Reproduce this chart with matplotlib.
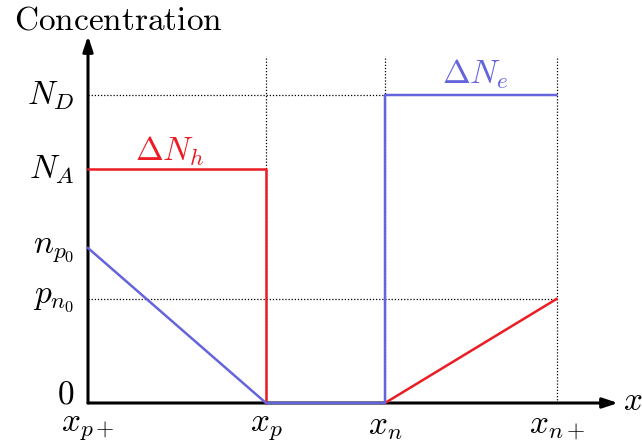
import matplotlib
matplotlib.use("Agg")
import matplotlib.pyplot as plt

plt.rcParams['mathtext.fontset'] = 'cm'

# positions (arbitrary units)
x_names = [r'$x_{p+}$', r'$x_p$', r'$x_n$', r'$x_{n+}$']
x_pos = [0, 178, 297, 468.5]
y_names = [r'$0$', r'$p_{n_0}$', r'$n_{p_0}$', r'$N_A$', r'$N_D$']
y_pos = [0, 104, 155, 234, 308]

# curves
holes_x1 = [0, 178, 178]
holes_y1 = [234, 234, 0]
holes_x2 = [297, 468.5]
holes_y2 = [0, 104]
elec_x = [0, 178, 297, 297, 468.5]
elec_y = [155, 0, 0, 308, 308]

RED = '#ec1c24'
BLUE = '#6464dc'
FS = 24

W, H = 642, 443
fig = plt.figure(figsize=(W/100, H/100), dpi=100)
ax = fig.add_axes([88/W, (H-403)/H, (618-88)/W, (403-36)/H])
ax.set_xlim(0, 530)
ax.set_ylim(0, 367)
for s in ax.spines.values():
    s.set_visible(False)

# axes arrows
ax.annotate('', xy=(1, 0), xytext=(0, 0), xycoords='axes fraction',
            arrowprops=dict(arrowstyle='-|>,head_length=0.9,head_width=0.3', lw=2.2,
                            color='black', shrinkA=0, shrinkB=0), zorder=2)
ax.annotate('', xy=(0, 1), xytext=(0, 0), xycoords='axes fraction',
            arrowprops=dict(arrowstyle='-|>,head_length=0.9,head_width=0.3', lw=2.2,
                            color='black', shrinkA=0, shrinkB=0), zorder=2)

# dotted guides
top = 403 - 56
for xv in x_pos[1:]:
    ax.plot([xv, xv], [0, top], ls=(0, (1, 1.5)), color='black', lw=0.9, zorder=1)
ax.plot([0, x_pos[2]], [y_pos[4], y_pos[4]], ls=(0, (1, 1.5)), color='black', lw=0.9, zorder=1)
ax.plot([0, x_pos[3]], [y_pos[1], y_pos[1]], ls=(0, (1, 1.5)), color='black', lw=0.9, zorder=1)

# curves
ax.plot(holes_x1, holes_y1, color=RED, lw=1.8, zorder=3, clip_on=False)
ax.plot(holes_x2, holes_y2, color=RED, lw=1.8, zorder=3, clip_on=False)
ax.plot(elec_x, elec_y, color=BLUE, lw=1.8, zorder=4, clip_on=False)

ax.set_xticks(x_pos)
ax.set_xticklabels(x_names, fontsize=FS)
ax.set_yticks(y_pos)
ax.set_yticklabels(y_names, fontsize=FS)
ax.tick_params(length=0)
ax.tick_params(axis='y', pad=10)
ax.tick_params(axis='x', pad=4)
ylbls = ax.get_yticklabels()
for lbl in ylbls:
    lbl.set_verticalalignment('center')
ylbls[0].set_verticalalignment('baseline')

ax.text(82, 243, r'$\Delta N_h$', color=RED, fontsize=FS, ha='center', va='baseline')
ax.text(387, 320, r'$\Delta N_e$', color=BLUE, fontsize=FS, ha='center', va='baseline')

fig.text(14/W, 1 - 30/H, r'$\mathrm{Concentration}$', fontsize=FS, ha='left', va='baseline')
fig.text(623/W, 1 - 401/H, r'$x$', fontsize=FS, ha='left', va='center')

fig.savefig('out.png', dpi=100)
